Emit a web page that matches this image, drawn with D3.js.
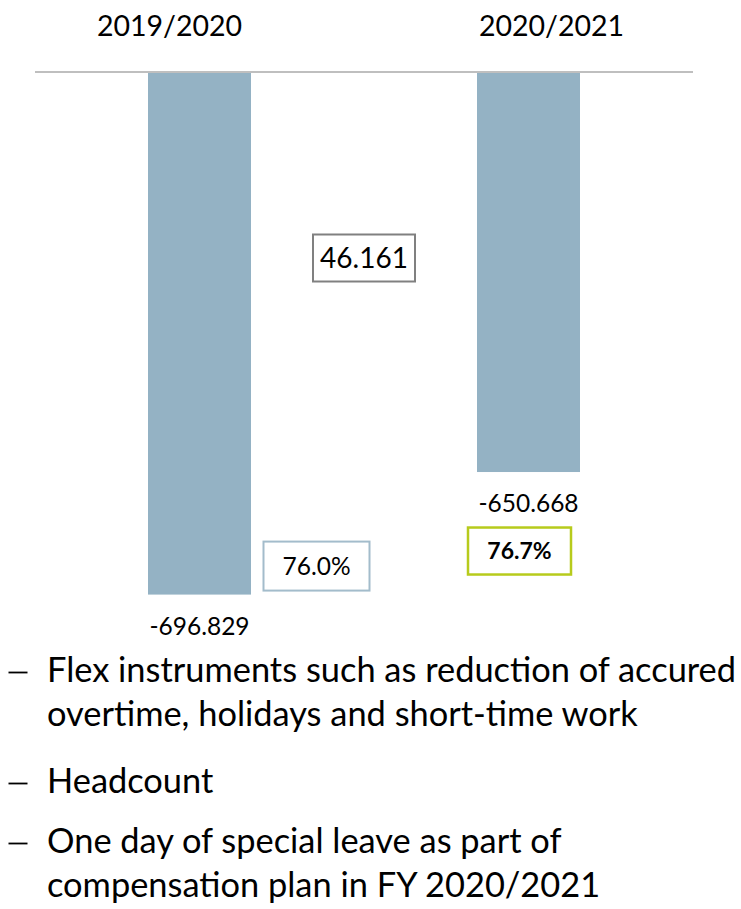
<!DOCTYPE html>
<html>
<head>
<meta charset="utf-8">
<script src="https://cdn.jsdelivr.net/npm/d3@7"></script>
<style>
  html, body { margin: 0; padding: 0; background: #fff; }
  svg { display: block; font-family: Lato, "Open Sans", sans-serif; }
</style>
</head>
<body>
<svg id="chart" width="741" height="909"></svg>
<script>
// Personnel expenses per fiscal year (negative = cost)
const categories = ["2019/2020", "2020/2021"];
const values = [-696.829, -650.668];
// Personnel expense ratio per fiscal year
const ratios = ["76.0%", "76.7%"];
// Drivers of the change
const bullets = [
  ["Flex instruments such as reduction of accured", "overtime, holidays and short-time work"],
  ["Headcount"],
  ["One day of special leave as part of", "compensation plan in FY 2020/2021"]
];

const svg = d3.select("#chart");
const barColor = "#94b2c4";
const barWidth = 103;

const x = d3.scalePoint().domain(categories).range([199.5, 528.5]);
const y = d3.scaleLinear().domain([-500, -700]).range([72, 603]);

// Three decimals, plain hyphen for negatives
const fmt = d3.formatLocale({ decimal: ".", thousands: ",", grouping: [3], currency: ["", ""], minus: "-" }).format(".3f");

// Bars hang down from the top reference line
svg.append("g").selectAll("rect")
  .data(values)
  .join("rect")
  .attr("x", (d, i) => x(categories[i]) - barWidth / 2)
  .attr("y", y(-500))
  .attr("width", barWidth)
  .attr("height", d => y(d) - y(-500))
  .attr("fill", barColor);

// Reference line
svg.append("line")
  .attr("x1", 35).attr("x2", 693)
  .attr("y1", y(-500)).attr("y2", y(-500))
  .attr("stroke", "#bfbfbf").attr("stroke-width", 2);

// Period labels
const labelShift = [-30, 23];
svg.append("g").selectAll("text")
  .data(categories)
  .join("text")
  .attr("x", (d, i) => x(d) + labelShift[i])
  .attr("y", 36)
  .attr("text-anchor", "middle")
  .attr("font-size", 28.5)
  .attr("fill", "#000")
  .text(d => d);

// Value labels under each bar
svg.append("g").selectAll("text")
  .data(values)
  .join("text")
  .attr("x", (d, i) => x(categories[i]))
  .attr("y", d => y(d) + 40)
  .attr("text-anchor", "middle")
  .attr("font-size", 24.5)
  .attr("fill", "#000")
  .text(d => fmt(d));

// Boxed annotation helper
function box(cx, cy, w, h, stroke, sw, txt, size, bold) {
  const g = svg.append("g");
  g.append("rect")
    .attr("x", cx - w / 2).attr("y", cy - h / 2)
    .attr("width", w).attr("height", h)
    .attr("fill", "#fff")
    .attr("stroke", stroke).attr("stroke-width", sw);
  g.append("text")
    .attr("x", cx).attr("y", cy)
    .attr("dy", "0.35em")
    .attr("text-anchor", "middle")
    .attr("font-size", size)
    .attr("font-weight", bold ? 700 : 400)
    .attr("fill", "#000")
    .text(txt);
}

// Year-over-year change between the bars
const delta = values[1] - values[0];
box((x(categories[0]) + x(categories[1])) / 2, 258, 102, 47, "#808080", 2, fmt(delta), 28, false);

// Ratio boxes
box(x(categories[0]) + barWidth / 2 + 65.5, y(values[0]) - 28.5, 106, 49, "#a3bccb", 2, ratios[0], 24.5, false);
box(x(categories[1]) - 9, y(values[1]) + 79, 103, 47, "#b7cb1c", 2.5, ratios[1], 23, true);

// Bullet list with thin dash markers
const lineGap = 44;
const bulletStarts = [682, 793, 853];
const list = svg.append("g").attr("font-size", 34.4).attr("fill", "#000");
bullets.forEach((lines, bi) => {
  list.append("line")
    .attr("x1", 8.5).attr("x2", 27.5)
    .attr("y1", bulletStarts[bi] - 9.5).attr("y2", bulletStarts[bi] - 9.5)
    .attr("stroke", "#000").attr("stroke-width", 1.8);
  lines.forEach((ln, li) => {
    list.append("text")
      .attr("x", 47)
      .attr("y", bulletStarts[bi] + li * lineGap)
      .text(ln);
  });
});
</script>
</body>
</html>
